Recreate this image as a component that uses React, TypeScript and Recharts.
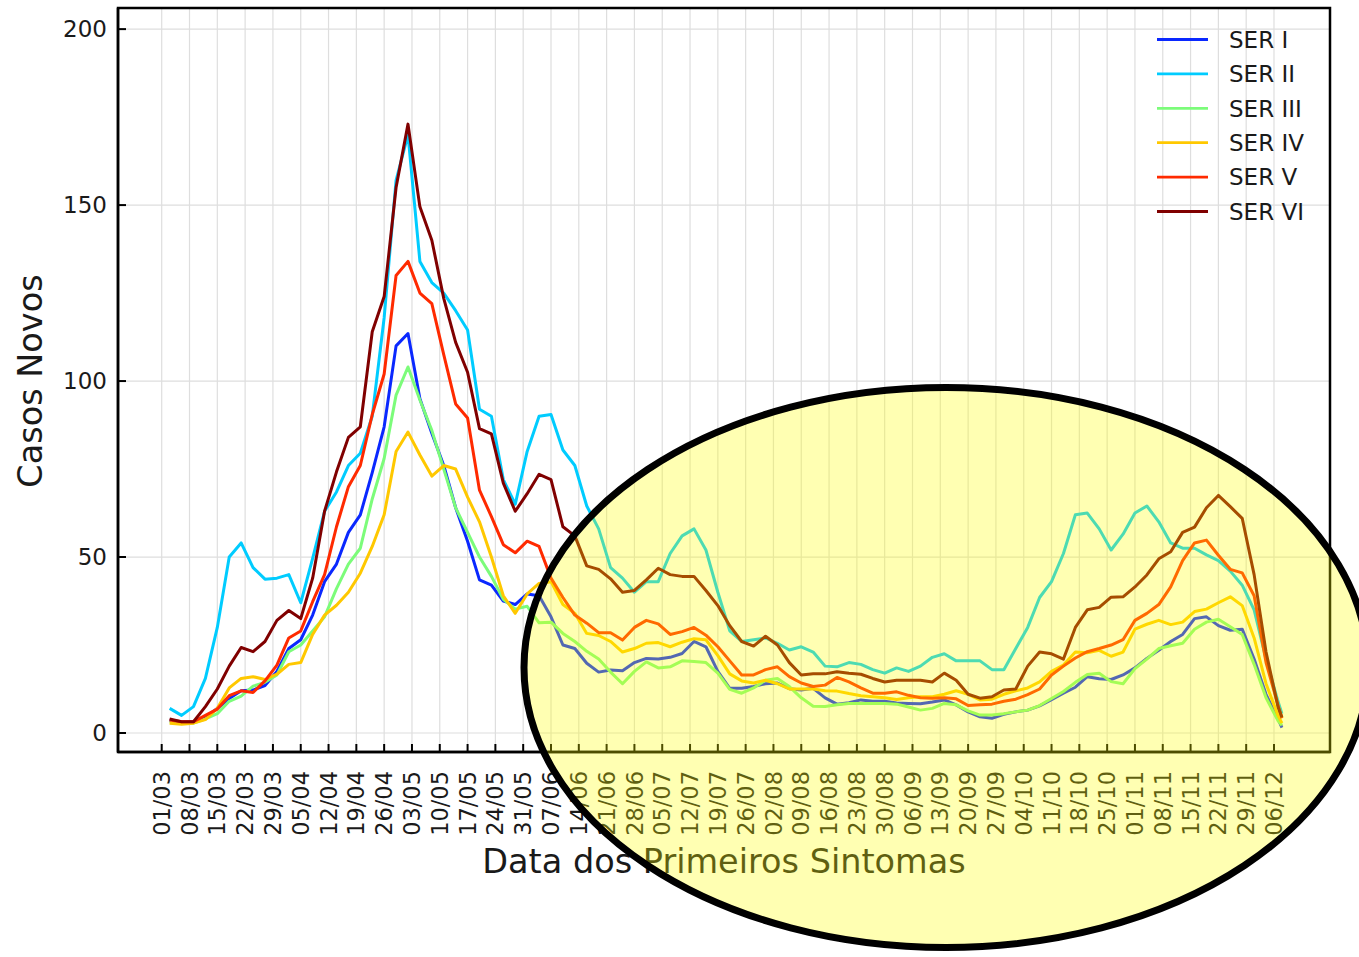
import {
  LineChart,
  Line,
  XAxis,
  YAxis,
  CartesianGrid,
  Legend,
  ReferenceArea,
} from "recharts";

// weekly tick labels on the x axis (dd/mm, 2020)
const tickLabels = [
  "01/03", "08/03", "15/03", "22/03", "29/03", "05/04", "12/04", "19/04", "26/04",
  "03/05", "10/05", "17/05", "24/05", "31/05", "07/06", "14/06", "21/06", "28/06",
  "05/07", "12/07", "19/07", "26/07", "02/08", "09/08", "16/08", "23/08", "30/08",
  "06/09", "13/09", "20/09", "27/09", "04/10", "11/10", "18/10", "25/10", "01/11",
  "08/11", "15/11", "22/11", "29/11", "06/12",
];

// dates of the samples (about every 3 days)
const sampleDates = [
  "03/03", "06/03", "09/03", "12/03", "15/03", "18/03", "21/03", "24/03", "27/03", "30/03",
  "02/04", "05/04", "08/04", "11/04", "14/04", "17/04", "20/04", "23/04", "26/04", "29/04",
  "02/05", "05/05", "08/05", "11/05", "14/05", "17/05", "20/05", "23/05", "26/05", "29/05",
  "01/06", "04/06", "07/06", "10/06", "13/06", "16/06", "19/06", "22/06", "25/06", "28/06",
  "01/07", "04/07", "07/07", "10/07", "13/07", "16/07", "19/07", "22/07", "25/07", "28/07",
  "31/07", "03/08", "06/08", "09/08", "12/08", "15/08", "18/08", "21/08", "24/08", "27/08",
  "30/08", "02/09", "05/09", "08/09", "11/09", "14/09", "17/09", "20/09", "23/09", "26/09",
  "29/09", "02/10", "05/10", "08/10", "11/10", "14/10", "17/10", "20/10", "23/10", "26/10",
  "29/10", "01/11", "04/11", "07/11", "10/11", "13/11", "16/11", "19/11", "22/11", "25/11",
  "28/11", "01/12", "04/12", "07/12", "08/12",
];

const serI = [
  3.7, 3, 3.2, 4.5, 7, 9.8, 12, 12.2, 13.5, 17.5,
  24, 26.5, 33.5, 43, 48, 57, 62, 74, 87, 110,
  113.5, 95, 85.2, 76, 64, 54.5, 43.5, 42, 37.5, 36.5,
  39.5, 39, 33, 25, 24, 19.8, 17.3, 17.9, 17.7, 20,
  21.2, 21, 21.5, 22.6, 26, 24.5, 17.5, 12.7, 12.7, 13.2,
  14, 14.2, 12.6, 12.2, 12.7, 10, 8.2, 8.6, 9.4, 9,
  9, 8.5, 8.4, 8.3, 8.8, 9.4, 8, 6, 4.6, 4.2,
  5.3, 6, 6.5, 7.7, 9.5, 11.3, 13, 16, 15.4, 15.2,
  16.5, 18.5, 21.2, 23.5, 26, 28, 32.5, 33, 30.5, 29.2,
  29.5, 21, 11, 4, 1.5,
];

const serII = [
  7, 5, 7.5, 15.5, 30, 50, 54, 47, 43.7, 44,
  45, 37, 49.6, 63, 68.5, 76, 79.5, 90, 118, 157,
  170, 134, 128, 125, 120, 114.5, 92, 90, 72, 65,
  80, 90, 90.5, 80.4, 76, 64.5, 58, 47, 44, 40,
  43, 43, 51, 56, 58, 52, 40, 29, 26, 26.5,
  27, 25.5, 23.6, 24.5, 23, 19, 18.8, 20, 19.5, 18,
  17, 18.5, 17.5, 19, 21.5, 22.5, 20.5, 20.5, 20.5, 18,
  18, 24, 30, 38.5, 43, 51, 62, 62.5, 58, 52,
  56.5, 62.5, 64.5, 60, 54, 52.5, 52.5, 50.6, 49, 46,
  42, 35, 21, 9, 5.5,
];

const serIII = [
  3.2, 2.8, 2.8, 4, 5.5, 9, 10.5, 13.3, 14.4, 16.5,
  23.1, 25, 29, 33, 41, 48, 52.5, 66.5, 78, 96,
  104, 94.6, 86, 75, 64, 57, 50, 44.5, 38, 35.2,
  36, 31.3, 31.5, 28.3, 26, 23.2, 21, 17.3, 14, 17.5,
  20.2, 18.5, 18.8, 20.5, 20.3, 20, 17, 12.4, 11.3, 12.8,
  15, 15.5, 13.2, 10, 7.6, 7.5, 8, 8.4, 8.4, 8.4,
  8.4, 8.2, 7.4, 6.5, 7, 8.4, 8, 6.3, 5.1, 5.1,
  5.5, 6, 6.5, 7.8, 9.8, 11.8, 14.4, 16.6, 17, 14.6,
  14, 18.3, 21, 24, 24.8, 25.5, 29.5, 31.5, 32.3, 30.2,
  28, 19.5, 10, 3.5, 2.2,
];

const serIV = [
  2.8, 2.5, 2.8, 3.8, 7, 12.8, 15.5, 16, 15.2, 16.7,
  19.5, 20, 28, 33.5, 36.3, 40, 45.4, 53, 62, 80,
  85.5, 79, 73, 76, 75, 67, 60, 50, 39, 34,
  39.5, 42.5, 43, 36.5, 34, 28.3, 27.7, 26, 23, 24,
  25.5, 25.7, 24.5, 25.8, 26.8, 26.5, 22, 16.8, 14.8, 14.2,
  15, 14, 12.5, 12.5, 12.5, 12, 11.9, 11.2, 10.6, 10.3,
  10, 9.5, 10, 10.3, 10.3, 11, 12, 11, 9.4, 9.6,
  11, 12, 12.8, 14.5, 17.5, 19.3, 23, 22.8, 23.5, 21.8,
  23, 29.5, 30.9, 32, 30.8, 31.5, 34.5, 35.2, 37, 38.7,
  36.2, 27, 14, 5, 2.8,
];

const serV = [
  3.7, 3.2, 3.2, 5, 6.8, 10.6, 12, 11.5, 14.8, 19.3,
  27, 29, 37.3, 45, 58.6, 70, 76, 90.5, 102, 130,
  134, 125, 122, 107.5, 93.5, 89.5, 69, 61.5, 53.5, 51.2,
  54.5, 53, 44, 38.5, 33.5, 31.2, 28.5, 28.5, 26.4, 30,
  32, 31, 28, 28.8, 30, 27.8, 24.5, 20.5, 16.5, 16.5,
  18, 18.8, 16, 14.2, 13.2, 13.6, 15.8, 14.5, 12.8, 11.3,
  11.3, 11.7, 10.7, 10, 9.9, 10, 9.7, 7.8, 8, 8.2,
  9, 9.6, 10.9, 12.5, 16.5, 19, 21.3, 23.1, 24, 25,
  26.5, 32, 34, 36.5, 41.5, 49, 54, 54.8, 50.5, 46.5,
  45.5, 39, 20, 8, 4.2,
];

const serVI = [
  4, 3.2, 3.2, 7.5, 12.5, 19, 24.3, 23.1, 26, 32,
  34.8, 32.5, 44, 63, 74.2, 84, 87, 114, 124, 155,
  173, 149.5, 140, 123.5, 111, 102.5, 86.5, 85, 71, 63,
  68, 73.5, 72, 58.6, 56, 47.5, 46.5, 43.8, 40, 40.5,
  43.5, 46.8, 45, 44.5, 44.5, 40.5, 36.2, 30.5, 26, 24.7,
  27.5, 25, 20, 16.5, 16.8, 16.8, 17.4, 17, 16.7, 15.5,
  14.5, 15, 15, 15, 14.5, 17, 15, 11, 9.9, 10.3,
  12.2, 12.5, 19, 23, 22.5, 21, 30, 35, 35.7, 38.6,
  38.7, 41.5, 44.9, 49.5, 51.5, 57, 58.5, 64, 67.5, 64.3,
  61, 45, 23, 7.5, 4.5,
];

const series = [
  { key: "s1", name: "SER I", color: "#0a28ff", values: serI },
  { key: "s2", name: "SER II", color: "#00ccff", values: serII },
  { key: "s3", name: "SER III", color: "#7cfc7a", values: serIII },
  { key: "s4", name: "SER IV", color: "#ffc800", values: serIV },
  { key: "s5", name: "SER V", color: "#ff2a00", values: serV },
  { key: "s6", name: "SER VI", color: "#800000", values: serVI },
];

const yTicks = [0, 50, 100, 150, 200];

// days since 01/03/2020
const dayOf = (s: string) => {
  const [d, m] = s.split("/").map(Number);
  return (Date.UTC(2020, m - 1, d) - Date.UTC(2020, 2, 1)) / 86400000;
};

const xTicks = tickLabels.map(dayOf);
const labelByDay = new Map(tickLabels.map((l) => [dayOf(l), l]));

const data = sampleDates.map((s, i) => {
  const row: any = { day: dayOf(s) };
  series.forEach((se) => {
    row[se.key] = se.values[i];
  });
  return row;
});

const FONT = "'DejaVu Sans', sans-serif";
const X_GAP = 19;
const Y_GAP = 11;

const XTick = (props: any) => {
  const { x, y, payload } = props;
  return (
    <g>
      <line x1={x} x2={x} y1={y - X_GAP} y2={y - X_GAP - 8} stroke="#000" strokeWidth={2} />
      <text
        x={x}
        y={y}
        transform={`rotate(-90 ${x} ${y})`}
        textAnchor="end"
        dy="0.36em"
        fontSize={22.5}
        fontFamily={FONT}
        fill="#1a1a1a"
      >
        {labelByDay.get(payload.value)}
      </text>
    </g>
  );
};

const YTick = (props: any) => {
  const { x, y, payload } = props;
  return (
    <g>
      <line x1={x + Y_GAP} x2={x + Y_GAP + 8} y1={y} y2={y} stroke="#000" strokeWidth={2} />
      <text x={x} y={y} textAnchor="end" dy="0.36em" fontSize={23} fontFamily={FONT} fill="#1a1a1a">
        {payload.value}
      </text>
    </g>
  );
};

const renderXLabel = (props: any) => {
  const vb = props.viewBox;
  return (
    <text
      x={vb.x + vb.width / 2}
      y={vb.y + 121}
      textAnchor="middle"
      fontSize={33.5}
      fontFamily={FONT}
      fill="#1a1a1a"
    >
      Data dos Primeiros Sintomas
    </text>
  );
};

const renderYLabel = (props: any) => {
  const vb = props.viewBox;
  const cx = 42;
  const cy = vb.y + vb.height / 2 + 1;
  return (
    <text
      x={cx}
      y={cy}
      transform={`rotate(-90 ${cx} ${cy})`}
      textAnchor="middle"
      fontSize={33.5}
      fontFamily={FONT}
      fill="#1a1a1a"
    >
      Casos Novos
    </text>
  );
};

const renderLegend = () => (
  <svg width={200} height={210}>
    {series.map((se, i) => {
      const cy = 19.5 + i * 34.4;
      return (
        <g key={se.key}>
          <line x1={7} x2={58} y1={cy} y2={cy} stroke={se.color} strokeWidth={2.8} />
          <text x={79} y={cy} dy="0.36em" fontSize={23} fontFamily={FONT} fill="#1a1a1a">
            {se.name}
          </text>
        </g>
      );
    })}
  </svg>
);

export default function App() {
  return (
    <div style={{ position: "absolute", left: 0, top: 0, width: 1359, height: 957, background: "#fff" }}>
      <LineChart
        width={1359}
        height={957}
        data={data}
        margin={{ top: 8, right: 29, bottom: 0, left: 0 }}
      >
        <CartesianGrid stroke="#dedede" strokeWidth={1.2} />
        <XAxis
          dataKey="day"
          type="number"
          domain={[-11, 294.1]}
          allowDataOverflow
          ticks={xTicks}
          interval={0}
          height={205}
          tickSize={0}
          tickMargin={X_GAP}
          tick={XTick}
          axisLine={{ stroke: "#000", strokeWidth: 2.5 }}
          label={{ content: renderXLabel }}
        />
        <YAxis
          type="number"
          domain={[-5.4, 206]}
          allowDataOverflow
          ticks={yTicks}
          interval={0}
          width={118}
          tickSize={0}
          tickMargin={Y_GAP}
          tick={YTick}
          axisLine={{ stroke: "#000", strokeWidth: 2.5 }}
          label={{ content: renderYLabel }}
        />
        <ReferenceArea
          x1={-11}
          x2={294.1}
          y1={-5.4}
          y2={206}
          fill="none"
          stroke="#000"
          strokeWidth={2.5}
          ifOverflow="visible"
        />
        {series.map((se) => (
          <Line
            key={se.key}
            dataKey={se.key}
            name={se.name}
            type="linear"
            stroke={se.color}
            strokeWidth={3}
            strokeLinejoin="round"
            dot={false}
            isAnimationActive={false}
          />
        ))}
        <Legend
          layout="vertical"
          align="center"
          verticalAlign="middle"
          wrapperStyle={{ left: 1150, top: 20, width: 200, height: 210 }}
          content={renderLegend}
        />
      </LineChart>
      <svg
        width={1359}
        height={957}
        style={{ position: "absolute", left: 0, top: 0, pointerEvents: "none" }}
      >
        <ellipse cx={946} cy={667.5} rx={422} ry={280} fill="#ffff00" fillOpacity={0.3} stroke="#000" strokeWidth={7} />
      </svg>
    </div>
  );
}
